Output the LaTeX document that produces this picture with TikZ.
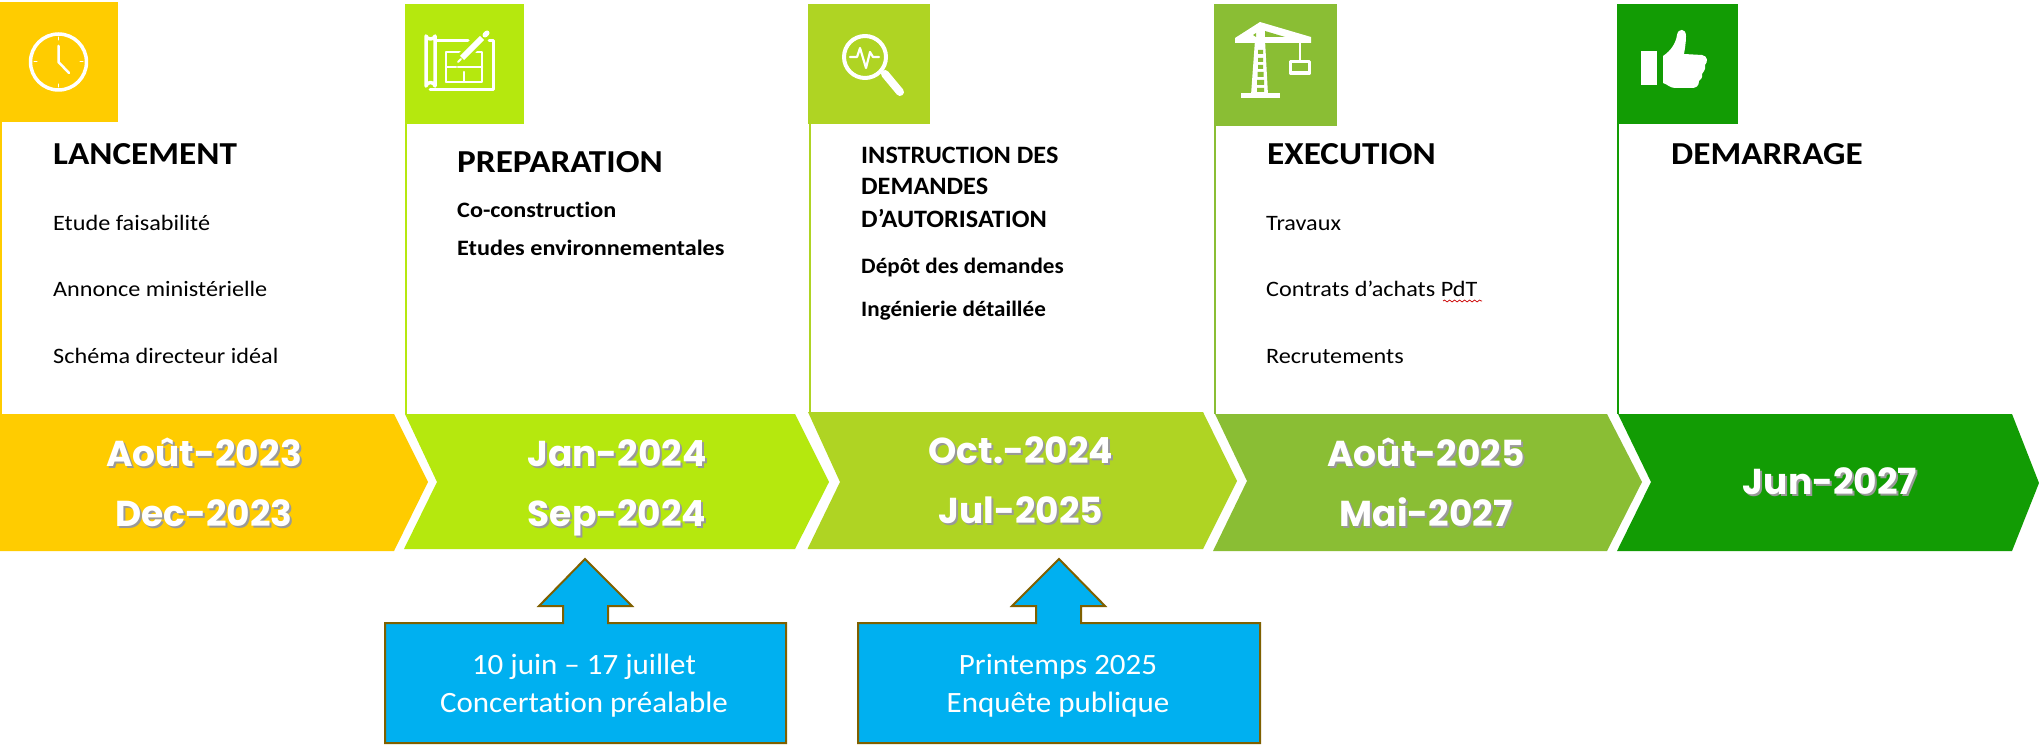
\documentclass[tikz,border=0pt]{standalone}
\usepackage{fontspec}
\usepackage{xcolor}
\setmainfont{Carlito}[FakeStretch=1.1, Ligatures=NoCommon]
\newfontfamily\calloutfont{Carlito}[FakeStretch=1.05, Ligatures=NoCommon]
\newfontfamily\datefont{Poppins}
\usetikzlibrary{decorations.pathmorphing}
\definecolor{phaseA}{HTML}{FFCC00}
\definecolor{phaseB}{HTML}{B5E80E}
\definecolor{phaseC}{HTML}{AFD423}
\definecolor{phaseD}{HTML}{8ABE34}
\definecolor{phaseE}{HTML}{129C04}
\definecolor{calloutfill}{HTML}{00B0F0}
\definecolor{calloutedge}{HTML}{7F6000}
% date text with its soft shadow
\newcommand{\shadowed}[1]{\leavevmode\rlap{\kern2pt\raisebox{-2.5pt}{\color{black!40}#1}}#1}

\begin{document}
\begin{tikzpicture}[x=1pt, y=-1pt,
	iconbox/.style={anchor=north west, minimum width=#1, minimum height=120pt, inner sep=0pt},
	iconline/.style={draw=white, line width=3pt, line cap=round, line join=round},
	phasetitle/.style={anchor=base west, inner sep=0pt, font=\fontsize{32}{32}\selectfont\bfseries},
	longtitle/.style={anchor=base west, inner sep=0pt, align=left, font=\calloutfont\fontsize{25}{32}\selectfont\bfseries},
	item/.style={anchor=base west, inner sep=0pt, font=\fontsize{22}{22}\selectfont},
	bolditem/.style={anchor=base west, inner sep=0pt, font=\fontsize{22}{22}\selectfont\bfseries},
	narrowitem/.style={anchor=base west, inner sep=0pt, font=\calloutfont\fontsize{22}{22}\selectfont\bfseries},
	datelabel/.style={anchor=base, inner sep=0pt, align=center, text=white, font=\datefont\fontsize{36}{60}\selectfont\bfseries},
	calloutshape/.style={fill=calloutfill, draw=calloutedge, line width=2pt},
	calloutlabel/.style={anchor=base, inner sep=0pt, align=center, text=white, font=\calloutfont\fontsize{29.5}{38}\selectfont}]
	\useasboundingbox (0,0) rectangle (2039,746);
	\fill[white] (0,0) rectangle (2039,746);
	% icon squares
	\node[iconbox=118pt, fill=phaseA] (iconA) at (0,2) {};
	\node[iconbox=119pt, fill=phaseB] (iconB) at (404.5,4) {};
	\node[iconbox=122pt, fill=phaseC] (iconC) at (808,4) {};
	\node[iconbox=123pt, fill=phaseD, minimum height=122pt] (iconD) at (1214,4) {};
	\node[iconbox=121pt, fill=phaseE] (iconE) at (1617,4) {};
	% side rules
	\coordinate (footA) at (1,414);
	\coordinate (footB) at (406,414);
	\coordinate (footC) at (809.5,413);
	\coordinate (footD) at (1215,414);
	\coordinate (footE) at (1618,414);
	\draw[phaseA, line width=2pt] (footA |- iconA.south) -- (footA);
	\draw[phaseB, line width=2pt] (footB |- iconB.south) -- (footB);
	\draw[phaseC, line width=2pt] (footC |- iconC.south) -- (footC);
	\draw[phaseD, line width=2pt] (footD |- iconD.south) -- (footD);
	\draw[phaseE, line width=2pt] (footE |- iconE.south) -- (footE);
	% chevrons
	\fill[phaseA] (0,414) -- (394,414) -- (428,482) -- (394,551) -- (0,551) -- cycle;
	\fill[phaseB] (405,414) -- (795,414) -- (829,482) -- (795,549) -- (404,549) -- (437,482) -- cycle;
	\fill[phaseC] (808,412) -- (1203,412) -- (1237,481) -- (1203,549) -- (807.5,549) -- (840,482) -- cycle;
	\fill[phaseD] (1215,414) -- (1607,414) -- (1642,482) -- (1607,551) -- (1213,551) -- (1247,481) -- cycle;
	\fill[phaseE] (1618,414) -- (2012,414) -- (2039,483) -- (2012,551) -- (1617,551) -- (1651,482) -- cycle;
	% dates
	\node[datelabel] (dateA) at (204,526) {\shadowed{Août-2023}\\\shadowed{Dec-2023}};
	\node[datelabel] (dateB) at (617,526) {\shadowed{Jan-2024}\\\shadowed{Sep-2024}};
	\node[datelabel] (dateC) at (1021,523) {\shadowed{Oct.-2024}\\\shadowed{Jul-2025}};
	\node[datelabel] (dateD) at (1426,526) {\shadowed{Août-2025}\\\shadowed{Mai-2027}};
	\node[datelabel] (dateE) at (1830,494) {\shadowed{Jun-2027}};
	% column texts
	\node[phasetitle] (titleA) at (53,165) {LANCEMENT};
	\node[item] (itemA1) at (53,230) {Etude faisabilité};
	\node[item] (itemA2) at (53,296) {Annonce ministérielle};
	\node[item] (itemA3) at (53,363) {Schéma directeur idéal};
	\node[phasetitle] (titleB) at (457,173) {PREPARATION};
	\node[bolditem] (itemB1) at (457,218) {Co-construction};
	\node[bolditem] (itemB2) at (457,255) {Etudes environnementales};
	\node[longtitle] (titleC) at (861,227) {INSTRUCTION DES\\DEMANDES\\D’AUTORISATION};
	\node[narrowitem] (itemC1) at (861,273) {Dépôt des demandes};
	\node[narrowitem] (itemC2) at (861,316) {Ingénierie détaillée};
	\node[phasetitle] (titleD) at (1267,165) {EXECUTION};
	\node[item] (itemD1) at (1266,230) {Travaux};
	\node[item] (itemD2) at (1266,296) {Contrats d’achats PdT};
	\node[item] (itemD3) at (1266,363) {Recrutements};
	\node[phasetitle] (titleE) at (1671,165) {DEMARRAGE};
	% spell check mark
	\draw[red!80!black, line width=0.7pt, decorate, decoration={snake, amplitude=1pt, segment length=5pt}] (1443,301) -- (1482,301);
	% callouts
	\draw[calloutshape] (385,623) -- (563,623) -- (563,606) -- (539,606) -- (585,559) -- (632,606) -- (608,606) -- (608,623) -- (786,623) -- (786,743) -- (385,743) -- cycle;
	\node[calloutlabel] (calloutB) at (584,712) {10 juin – 17 juillet\\Concertation préalable};
	\draw[calloutshape] (858,623) -- (1036,623) -- (1036,606) -- (1012,606) -- (1059,559) -- (1105,606) -- (1081,606) -- (1081,623) -- (1260,623) -- (1260,743) -- (858,743) -- cycle;
	\node[calloutlabel] (calloutC) at (1058,712) {Printemps 2025\\Enquête publique};
	% clock
	\draw[iconline, line width=3.5pt] (58.5,62) circle (28);
	\draw[iconline, line width=2.5pt] (58.5,46) -- (58.5,62) -- (69,73);
	\draw[iconline, line width=1pt] (58.5,37) -- (58.5,40) (58.5,84) -- (58.5,87) (34,62) -- (37,62) (80,62) -- (83,62);
	% plan and pencil
	\draw[iconline, line width=3.5pt] (435,40) -- (435,36) arc (0:180:4.5 and 3) -- (426,86) arc (180:360:4.5 and 3.5) -- (435,40);
	\draw[iconline] (430,90) -- (493,90) -- (493,41) -- (489,41);
	\draw[iconline] (435,41) -- (468,41);
	\draw[iconline, line width=2.5pt] (446,82) -- (446,52) -- (462,52) (446,67) -- (456,67) (446,82) -- (482,82) -- (482,52) -- (476,52) (470,67) -- (482,67) (464,82) -- (464,72) (458,67) -- (470,67);
	\draw[phaseB, line width=11pt] (460,60) -- (482,38);
	\draw[iconline, line width=6pt, line cap=butt] (462,58) -- (482,38);
	\draw[iconline, line width=5pt] (485,35) -- (487,33);
	\draw[iconline, line width=2pt] (458,62) -- (461,59);
	% magnifier
	\draw[iconline, line width=4pt] (865,57) circle (21);
	\draw[iconline, line width=8pt] (885,74) -- (900,92);
	\draw[iconline, line width=2.2pt] (850,57) -- (857,57) -- (860,48) -- (866,68) -- (870,52) -- (873,57) -- (879,57);
	% crane
	\fill[white] (1241,93) rectangle (1280,98);
	\fill[white] (1235,38) -- (1260,22) -- (1311,37) -- (1311,43) -- (1235,43) -- cycle;
	\fill[white] (1251,95) -- (1255,40) -- (1265,40) -- (1268,95) -- cycle;
	\fill[phaseD] (1253,35) -- (1256,33) -- (1256,37) -- cycle (1265,31) -- (1285,37) -- (1265,37) -- cycle;
	\fill[phaseD] (1258,50) rectangle (1263,54) (1258,58) rectangle (1263,62) (1258,65) rectangle (1263,69) (1257.5,72) rectangle (1263.5,77) (1257,80) rectangle (1264,85) (1257,88) rectangle (1264,92);
	\draw[iconline, line width=2.5pt] (1300,43) -- (1300,60);
	\draw[iconline, line width=3.5pt, line cap=butt] (1290.5,61.5) rectangle (1309.5,73);
	% thumb
	\fill[white] (1641,51) rectangle (1657,85);
	\fill[white] (1663,56) .. controls (1672,50) and (1676,42) .. (1677,35) .. controls (1678,28) and (1686,28) .. (1686,36) .. controls (1686,42) and (1685,48) .. (1684,54) -- (1702,55) .. controls (1708,56) and (1708,62) .. (1705,65) .. controls (1706,70) and (1703,72) .. (1702,74) .. controls (1703,78) and (1700,80) .. (1699,81) .. controls (1699,86) and (1696,88) .. (1692,88) -- (1675,88) .. controls (1670,88) and (1667,84) .. (1663,83) -- cycle;
\end{tikzpicture}
\end{document}
